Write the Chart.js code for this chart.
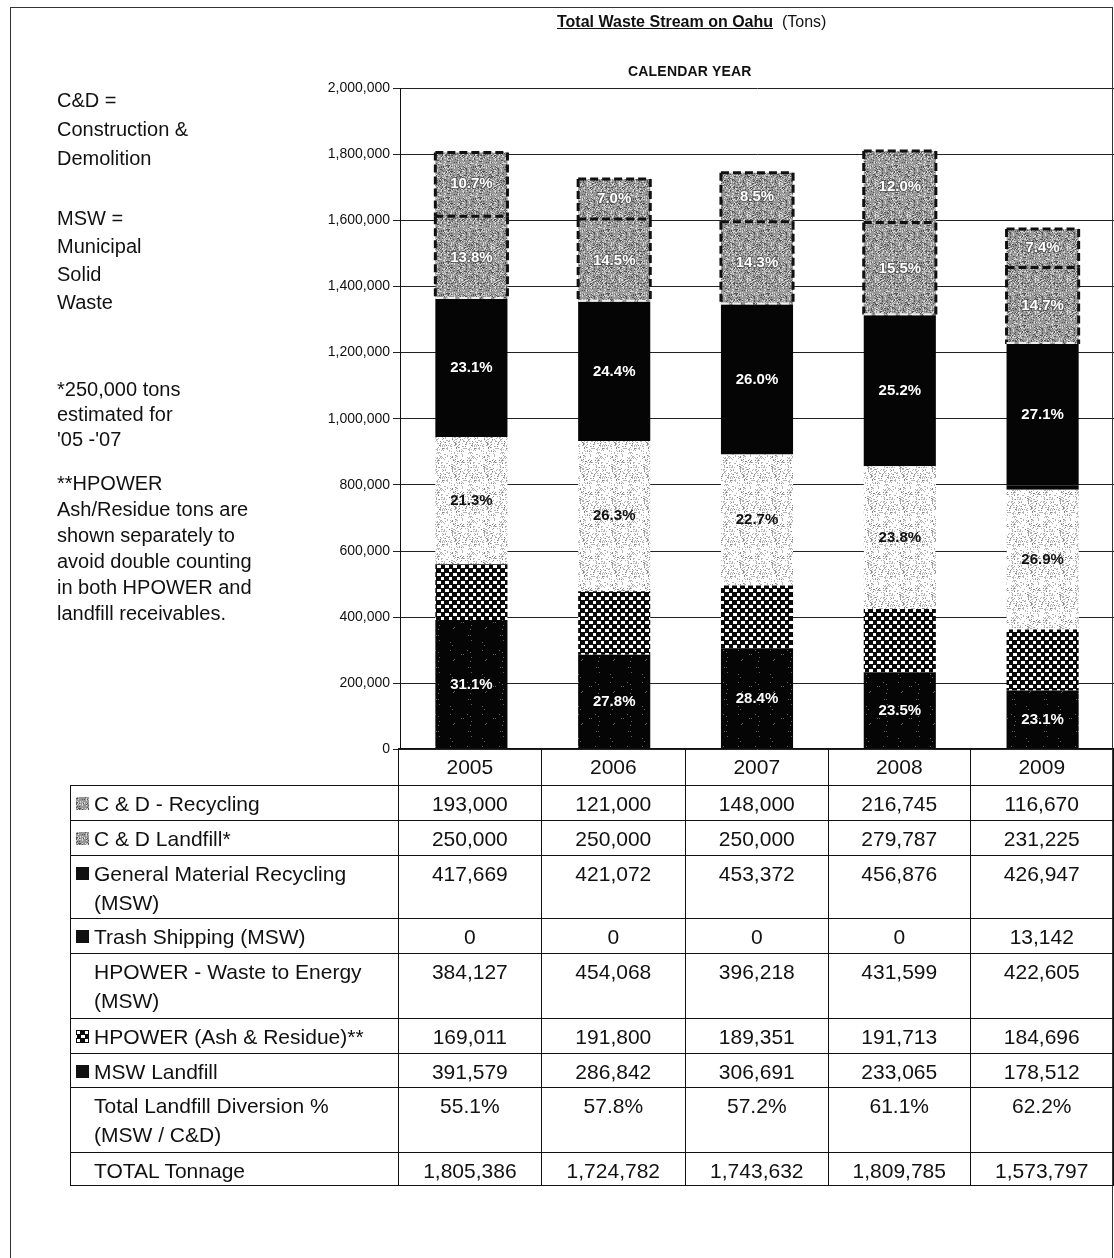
<!DOCTYPE html>
<html>
<head>
<meta charset="utf-8">
<script src="https://cdn.jsdelivr.net/npm/chart.js@4.4.1/dist/chart.umd.min.js"></script>
<style>
body { margin: 0; background: #fff; font-family: "Liberation Sans", Arial, sans-serif; color: #111; }
#page { position: relative; width: 1114px; height: 1258px; overflow: hidden; }
#frame { position: absolute; left: 10px; top: 7px; width: 1103px; height: 1280px; border: 1px solid #333; box-sizing: border-box; }
#chart { position: absolute; left: 0; top: 0; }
.title { position: absolute; left: 557px; top: 13px; font-size: 16px; white-space: nowrap; }
.title b { text-decoration: underline; }
.subtitle { position: absolute; left: 628px; top: 63px; font-size: 14px; font-weight: bold; white-space: nowrap; letter-spacing: 0.2px; }
.note { position: absolute; left: 57px; font-size: 20px; white-space: nowrap; }
#dataTable { position: absolute; left: 70px; top: 748px; border-collapse: collapse; table-layout: fixed; font-size: 21px; }
#dataTable td { border: 1px solid #111; padding: 3px 0 0 0; line-height: 29px; vertical-align: top; text-align: center; white-space: nowrap; }
#dataTable td.lab { text-align: left; padding-left: 23px; position: relative; }
#dataTable td.blank { border-top: none; border-left: none; }
#dataTable td.lab canvas { position: absolute; left: 5px; top: 11px; }
</style>
</head>
<body>
<div id="page">
  <canvas id="chart" width="1114" height="761"></canvas>
  <div id="frame"></div>
  <div class="title"><b>Total Waste Stream on Oahu</b> &nbsp;(Tons)</div>
  <div class="subtitle">CALENDAR YEAR</div>

  <div class="note" style="top:86px; line-height:29px;">C&amp;D =<br>Construction &amp;<br>Demolition</div>
  <div class="note" style="top:204px; line-height:28px;">MSW =<br>Municipal<br>Solid<br>Waste</div>
  <div class="note" style="top:377px; line-height:25px;">*250,000 tons<br>estimated for<br>'05 -'07</div>
  <div class="note" style="top:470px; line-height:26px;">**HPOWER<br>Ash/Residue tons are<br>shown separately to<br>avoid double counting<br>in both HPOWER and<br>landfill receivables.</div>

  <table id="dataTable"></table>
</div>

<script>
const years = ['2005', '2006', '2007', '2008', '2009'];
const cdRecycling = [193000, 121000, 148000, 216745, 116670];
const cdLandfill = [250000, 250000, 250000, 279787, 231225];
const generalRecycling = [417669, 421072, 453372, 456876, 426947];
const trashShipping = [0, 0, 0, 0, 13142];
const hpowerEnergy = [384127, 454068, 396218, 431599, 422605];
const hpowerAsh = [169011, 191800, 189351, 191713, 184696];
const mswLandfill = [391579, 286842, 306691, 233065, 178512];
const diversionPct = ['55.1%', '57.8%', '57.2%', '61.1%', '62.2%'];
const yMin = 0, yMax = 2000000, yStep = 200000;

const totals = years.map((y, i) =>
    cdRecycling[i] + cdLandfill[i] + generalRecycling[i] + trashShipping[i] +
    hpowerEnergy[i] + hpowerAsh[i] + mswLandfill[i]);

const FONT = '"Liberation Sans", Arial, sans-serif';

// Texture tiles for the scanned look (fixed hash, same every run)
function hash(x, y) {
    let h = (x * 374761393 + y * 668265263) | 0;
    h = (h ^ (h >>> 13)) * 1274126177 | 0;
    return ((h ^ (h >>> 16)) >>> 0) % 100;
}

function makeTile(size, paint) {
    const c = document.createElement('canvas');
    c.width = size; c.height = size;
    paint(c.getContext('2d'), size);
    return c;
}

const grayTile = makeTile(32, (g, s) => {
    g.fillStyle = 'rgba(140,140,140,0.9)';
    g.fillRect(0, 0, s, s);
    for (let y = 0; y < s; y++) {
        for (let x = 0; x < s; x++) {
            const h = hash(x, y);
            if (h < 22) { g.fillStyle = '#d4d4d4'; g.fillRect(x, y, 1, 1); }
            else if (h > 84) { g.fillStyle = '#555'; g.fillRect(x, y, 1, 1); }
        }
    }
});

const lightTile = makeTile(32, (g, s) => {
    g.fillStyle = '#ffffff';
    g.fillRect(0, 0, s, s);
    for (let y = 0; y < s; y++) {
        for (let x = 0; x < s; x++) {
            const h = hash(x + 7, y + 3);
            if (h < 18) { g.fillStyle = '#b4b4b4'; g.fillRect(x, y, 1, 1); }
            else if (h < 23) { g.fillStyle = '#858585'; g.fillRect(x, y, 1, 1); }
        }
    }
});

// white blobs on black, staggered rows
const checkTile = makeTile(8, (g, s) => {
    g.fillStyle = '#0a0a0a';
    g.fillRect(0, 0, s, s);
    g.fillStyle = '#ffffff';
    g.fillRect(1, 1, 3, 3);
    g.fillRect(5, 5, 3, 3);
    g.fillRect(0, 5, 1, 3);
});

const darkTile = makeTile(32, (g, s) => {
    g.fillStyle = '#050505';
    g.fillRect(0, 0, s, s);
    for (let y = 0; y < s; y++) {
        for (let x = 0; x < s; x++) {
            if (hash(x + 11, y + 5) < 2) { g.fillStyle = '#666'; g.fillRect(x, y, 1, 1); }
        }
    }
});

const chartCanvas = document.getElementById('chart');
const cctx = chartCanvas.getContext('2d');
const grayFill = cctx.createPattern(grayTile, 'repeat');
const lightFill = cctx.createPattern(lightTile, 'repeat');
const checkFill = cctx.createPattern(checkTile, 'repeat');
const darkFill = cctx.createPattern(darkTile, 'repeat');

const pct = (arr) => arr.map((v, i) => (v / totals[i] * 100).toFixed(1) + '%');
const landfillPct = mswLandfill.map((v, i) => ((v + hpowerAsh[i]) / totals[i] * 100).toFixed(1) + '%');

function dashedLine(ctx, x1, y1, x2, y2) {
    ctx.beginPath();
    ctx.moveTo(x1, y1);
    ctx.lineTo(x2, y2);
    ctx.stroke();
}

// Draw dashed outlines and percentage labels on the bars
const barExtras = {
    id: 'barExtras',
    afterDatasetsDraw(chart) {
        const ctx = chart.ctx;
        chart.data.datasets.forEach((ds, i) => {
            const meta = chart.getDatasetMeta(i);
            meta.data.forEach((bar, j) => {
                const p = bar.getProps(['x', 'y', 'base', 'width'], true);
                if (ds.dashed) {
                    const l = p.x - p.width / 2, r = p.x + p.width / 2;
                    ctx.save();
                    ctx.setLineDash([8, 4]);
                    ctx.lineWidth = 3;
                    ctx.strokeStyle = '#111';
                    dashedLine(ctx, l, p.y, r, p.y);
                    dashedLine(ctx, l, p.y, l, p.base);
                    dashedLine(ctx, r, p.y, r, p.base);
                    if (ds.whiteBase) {
                        ctx.strokeStyle = '#eee';
                        ctx.lineWidth = 2;
                        dashedLine(ctx, l, p.base - 1, r, p.base - 1);
                    }
                    ctx.restore();
                }
                if (ds.pctLabels) {
                    ctx.save();
                    ctx.font = 'bold 15px ' + FONT;
                    ctx.textAlign = 'center';
                    ctx.textBaseline = 'middle';
                    const cy = (p.y + p.base) / 2;
                    if (ds.halo) {
                        ctx.lineWidth = 2;
                        ctx.strokeStyle = 'rgba(60,60,60,0.6)';
                        ctx.strokeText(ds.pctLabels[j], p.x, cy);
                    }
                    ctx.fillStyle = ds.labelColor;
                    ctx.fillText(ds.pctLabels[j], p.x, cy);
                    ctx.restore();
                }
            });
        });
    }
};

new Chart(chartCanvas, {
    type: 'bar',
    data: {
        labels: years,
        datasets: [
            { label: 'MSW Landfill', data: mswLandfill, backgroundColor: darkFill, pctLabels: landfillPct, labelColor: '#fff' },
            { label: 'HPOWER (Ash & Residue)', data: hpowerAsh, backgroundColor: checkFill },
            { label: 'HPOWER - Waste to Energy', data: hpowerEnergy, backgroundColor: lightFill, pctLabels: pct(hpowerEnergy), labelColor: '#111' },
            { label: 'Trash Shipping', data: trashShipping, backgroundColor: '#050505' },
            { label: 'General Material Recycling', data: generalRecycling, backgroundColor: '#050505', pctLabels: pct(generalRecycling), labelColor: '#fff' },
            { label: 'C & D Landfill', data: cdLandfill, backgroundColor: grayFill, dashed: true, whiteBase: true, halo: true, pctLabels: pct(cdLandfill), labelColor: '#fff' },
            { label: 'C & D - Recycling', data: cdRecycling, backgroundColor: grayFill, dashed: true, halo: true, pctLabels: pct(cdRecycling), labelColor: '#fff' }
        ]
    },
    options: {
        responsive: false,
        animation: false,
        devicePixelRatio: 1,
        layout: { padding: { top: 88, bottom: 1, left: 0, right: 0 } },
        datasets: { bar: { barPercentage: 0.505, categoryPercentage: 1.0, borderWidth: 0 } },
        plugins: { legend: { display: false }, tooltip: { enabled: false } },
        scales: {
            x: { stacked: true, display: false },
            y: {
                stacked: true,
                min: yMin,
                max: yMax,
                afterFit: function(scale) { scale.width = 400; },
                ticks: {
                    stepSize: yStep,
                    color: '#111',
                    padding: 3,
                    font: { family: FONT, size: 14 },
                    callback: function(value) { return value.toLocaleString('en-US'); }
                },
                grid: { color: '#222', lineWidth: 1, tickLength: 7 },
                border: { color: '#111', width: 1 }
            }
        }
    },
    plugins: [barExtras]
});

// Data table below the chart
const tableRows = [
    { label: 'C & D - Recycling', icon: grayTile, values: cdRecycling, h: 35 },
    { label: 'C & D Landfill*', icon: grayTile, values: cdLandfill, h: 35 },
    { label: 'General Material Recycling<br>(MSW)', icon: 'black', values: generalRecycling, h: 63 },
    { label: 'Trash Shipping (MSW)', icon: 'black', values: trashShipping, h: 35 },
    { label: 'HPOWER - Waste to Energy<br>(MSW)', icon: null, values: hpowerEnergy, h: 65 },
    { label: 'HPOWER (Ash &amp; Residue)**', icon: checkTile, values: hpowerAsh, h: 35 },
    { label: 'MSW Landfill', icon: 'black', values: mswLandfill, h: 34 },
    { label: 'Total Landfill Diversion %<br>(MSW / C&amp;D)', icon: null, values: diversionPct, h: 65 },
    { label: 'TOTAL Tonnage', icon: null, values: totals, h: 33 }
];

const table = document.getElementById('dataTable');
const colWidths = [328, 144, 144, 144, 142, 144];
let html = '<colgroup>' + colWidths.map(w => '<col style="width:' + w + 'px">').join('') + '</colgroup>';
html += '<tr style="height:37px"><td class="blank"></td>' + years.map(y => '<td>' + y + '</td>').join('') + '</tr>';
tableRows.forEach((r, i) => {
    html += '<tr style="height:' + r.h + 'px"><td class="lab" data-row="' + i + '">' + r.label + '</td>';
    html += r.values.map(v => '<td>' + (typeof v === 'number' ? v.toLocaleString('en-US') : v) + '</td>').join('');
    html += '</tr>';
});
table.innerHTML = html;

// Legend swatches in the label cells
tableRows.forEach((r, i) => {
    if (!r.icon) return;
    const cell = table.querySelector('td[data-row="' + i + '"]');
    const c = document.createElement('canvas');
    c.width = 13; c.height = 13;
    const g = c.getContext('2d');
    if (r.icon === 'black') {
        g.fillStyle = '#111';
    } else {
        g.fillStyle = g.createPattern(r.icon, 'repeat');
    }
    g.fillRect(0, 0, 13, 13);
    cell.appendChild(c);
});
</script>
</body>
</html>
